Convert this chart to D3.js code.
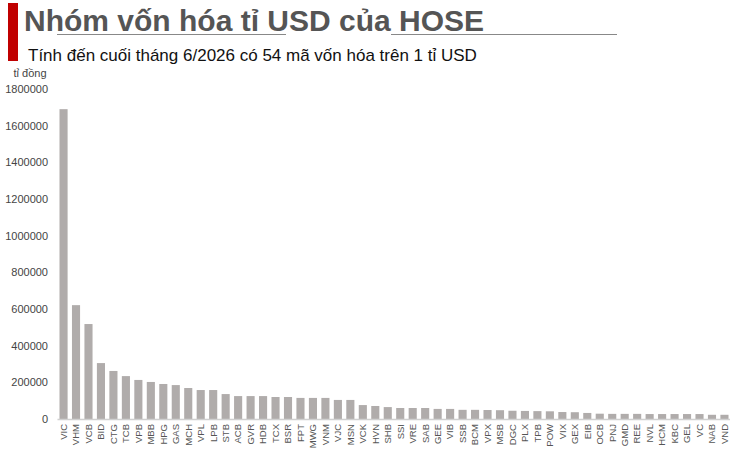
<!DOCTYPE html>
<html>
<head>
<meta charset="UTF-8">
<title>Nhóm vốn hóa tỉ USD của HOSE</title>
<script src="https://cdn.jsdelivr.net/npm/d3@7"></script>
<style>
  body { margin: 0; background: #fff; }
  svg { display: block; font-family: "Liberation Sans", Arial, sans-serif; }
</style>
</head>
<body>
<svg id="chart" width="730" height="456"></svg>
<script>
// tickers, left to right
const tickers = ["VIC","VHM","VCB","BID","CTG","TCB","VPB","MBB","HPG","GAS","MCH","VPL","LPB",
  "STB","ACB","GVR","HDB","TCX","BSR","FPT","MWG","VNM","VJC","MSN","VCK","HVN",
  "SHB","SSI","VRE","SAB","GEE","VIB","SSB","BCM","VPX","MSB","DGC","PLX","TPB","POW",
  "VIX","GEX","EIB","OCB","PNJ","GMD","REE","NVL","HCM","KBC","GEL","VC","NAB","VND"];
// market cap, ti dong
const marketCap = [1690000,621000,518000,305000,262000,234000,213000,202000,191000,185000,169000,158000,158000,
  136000,125000,125000,125000,120000,120000,115000,115000,115000,104000,104000,76000,71000,
  65000,60000,60000,60000,55000,55000,50000,50000,49000,48000,45000,44000,43000,42000,
  38000,37000,33000,29000,28000,28000,28000,27000,27000,27000,27000,27000,23000,23000];
const yTicks = [0,200000,400000,600000,800000,1000000,1200000,1400000,1600000,1800000];

const data = tickers.map((t, i) => ({ ticker: t, value: marketCap[i] }));

const svg = d3.select("#chart");

// header
svg.append("rect").attr("x", 8).attr("y", 3).attr("width", 10).attr("height", 58).attr("fill", "#c00000");
svg.append("line").attr("x1", 57).attr("x2", 286).attr("y1", 34.5).attr("y2", 34.5)
  .attr("stroke", "#888").attr("stroke-width", 1);
svg.append("line").attr("x1", 391).attr("x2", 617).attr("y1", 34.5).attr("y2", 34.5)
  .attr("stroke", "#888").attr("stroke-width", 1);
svg.append("text").attr("x", 24).attr("y", 31)
  .attr("font-size", 30).attr("font-weight", "bold").attr("fill", "#555")
  .text("Nhóm vốn hóa tỉ USD của HOSE");
svg.append("text").attr("x", 28).attr("y", 61)
  .attr("font-size", 17).attr("fill", "#111")
  .text("Tính đến cuối tháng 6/2026 có 54 mã vốn hóa trên 1 tỉ USD");

// scales
const x = d3.scaleBand()
  .domain(tickers)
  .range([57, 731])
  .paddingInner(0.35)
  .paddingOuter(0.2);

const y = d3.scaleLinear()
  .domain([0, 1800000])
  .range([419, 89]);

// y axis (labels only)
const yAxis = svg.append("g")
  .attr("transform", "translate(48,0)")
  .call(d3.axisLeft(y).tickValues(yTicks).tickFormat(d3.format("d")).tickSize(0).tickPadding(0));
yAxis.select(".domain").remove();
yAxis.selectAll("text").attr("font-size", 11).attr("fill", "#444").attr("font-family", "Liberation Sans, Arial, sans-serif");

svg.append("text").attr("x", 30).attr("y", 77).attr("text-anchor", "middle")
  .attr("font-size", 11).attr("fill", "#444").text("tỉ đồng");

// bars
svg.append("g").selectAll("rect")
  .data(data)
  .join("rect")
  .attr("x", d => x(d.ticker))
  .attr("y", d => y(d.value))
  .attr("width", x.bandwidth())
  .attr("height", d => y(0) - y(d.value))
  .attr("fill", "#b0acab");

// x axis
const xAxis = svg.append("g")
  .attr("transform", `translate(0,${y(0)})`)
  .call(d3.axisBottom(x).tickSize(0).tickPadding(0));
xAxis.select(".domain").attr("stroke", "#d0d0d0").attr("stroke-width", 1.5);
xAxis.selectAll("text")
  .attr("font-size", 9.5)
  .attr("fill", "#555")
  .attr("font-family", "Liberation Sans, Arial, sans-serif")
  .attr("text-anchor", "end")
  .attr("transform", "rotate(-90)")
  .attr("x", -5)
  .attr("y", 0)
  .attr("dy", "0.35em");
</script>
</body>
</html>
